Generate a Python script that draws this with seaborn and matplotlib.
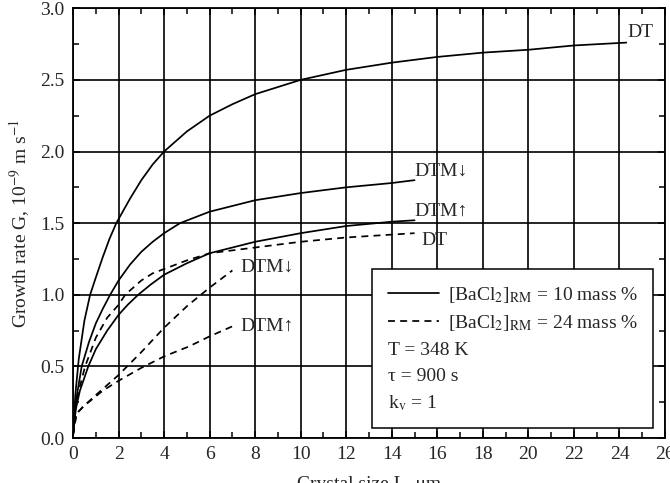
import pandas as pd
import matplotlib
matplotlib.use("Agg")
import matplotlib.pyplot as plt
from matplotlib.lines import Line2D
from matplotlib.ticker import MultipleLocator, FormatStrFormatter
import seaborn as sns

# curves: crystal size L (um) and growth rate G (1e-9 m/s)
L_dt_10 = [0, 0.1, 0.25, 0.5, 0.75, 1.0, 1.3, 1.6, 1.9, 2.5, 3, 3.5, 4, 5, 6, 7, 8, 9, 10, 12, 14, 16, 18, 20, 22, 24.3]
G_dt_10 = [0.02, 0.3, 0.55, 0.82, 1.0, 1.12, 1.26, 1.39, 1.5, 1.67, 1.8, 1.91, 2.0, 2.14, 2.25, 2.33, 2.4, 2.45, 2.5, 2.57, 2.62, 2.66, 2.69, 2.71, 2.74, 2.76]

L_dtm_dn_10 = [0, 0.15, 0.38, 0.7, 1, 1.3, 1.63, 2, 2.5, 3, 3.5, 4, 4.7, 6, 7, 8, 10, 12, 14, 15]
G_dtm_dn_10 = [0.02, 0.28, 0.5, 0.67, 0.8, 0.9, 1.0, 1.1, 1.21, 1.3, 1.37, 1.43, 1.5, 1.58, 1.62, 1.66, 1.71, 1.75, 1.78, 1.80]

L_dtm_up_10 = [0, 0.12, 0.3, 0.67, 1, 1.5, 2, 2.4, 2.86, 3.4, 4, 5, 6, 7, 8, 10, 12, 14, 15]
G_dtm_up_10 = [0.02, 0.2, 0.33, 0.5, 0.62, 0.75, 0.86, 0.93, 1.0, 1.07, 1.14, 1.22, 1.29, 1.33, 1.37, 1.43, 1.48, 1.51, 1.52]

L_dt_24 = [0, 0.08, 0.2, 0.53, 1, 1.5, 2, 2.29, 3, 3.5, 4, 5, 6, 7, 8, 10, 12, 14, 15]
G_dt_24 = [0.02, 0.18, 0.3, 0.5, 0.7, 0.84, 0.93, 1.0, 1.1, 1.15, 1.18, 1.24, 1.29, 1.31, 1.33, 1.37, 1.40, 1.42, 1.43]

L_dtm_dn_24 = [0, 0.15, 0.45, 1, 2, 3, 4, 5, 6, 7.0]
G_dtm_dn_24 = [0.02, 0.17, 0.22, 0.3, 0.44, 0.6, 0.77, 0.92, 1.05, 1.17]

L_dtm_up_24 = [0, 0.15, 0.45, 1.3, 2, 3, 4, 5.1, 6, 7.0]
G_dtm_up_24 = [0.02, 0.17, 0.22, 0.33, 0.40, 0.49, 0.57, 0.64, 0.71, 0.78]

curves = [
    ("DT_10", "10", L_dt_10, G_dt_10),
    ("DTMdn_10", "10", L_dtm_dn_10, G_dtm_dn_10),
    ("DTMup_10", "10", L_dtm_up_10, G_dtm_up_10),
    ("DT_24", "24", L_dt_24, G_dt_24),
    ("DTMdn_24", "24", L_dtm_dn_24, G_dtm_dn_24),
    ("DTMup_24", "24", L_dtm_up_24, G_dtm_up_24),
]
rows = []
for name, conc, xs, ys in curves:
    for x, y in zip(xs, ys):
        rows.append({"L": x, "G": y, "curve": name, "conc": conc})
df = pd.DataFrame(rows)

# curve labels: text, x, y
label_text = ["DT", "DTM\u2193", "DTM\u2191", "DT", "DTM\u2193", "DTM\u2191"]
label_x = [24.35, 15.0, 15.0, 15.3, 7.35, 7.35]
label_y = [2.83, 1.86, 1.58, 1.38, 1.19, 0.78]

sns.set_style("ticks")
plt.rcParams["font.family"] = ["Liberation Serif", "DejaVu Serif"]
plt.rcParams["mathtext.fontset"] = "stix"

fig = plt.figure(figsize=(6.7, 4.83), dpi=100)
ax = fig.add_axes([0.109, 0.093, 0.8835, 0.89])

sns.lineplot(data=df, x="L", y="G", units="curve", estimator=None, sort=False,
             style="conc", dashes={"10": "", "24": (4, 3)}, color="black",
             linewidth=1.25, legend=False, ax=ax)

for t, x, y in zip(label_text, label_x, label_y):
    ax.text(x, y, t, fontsize=14, ha="left", va="center")

ax.set_xlim(0, 26)
ax.set_ylim(0, 3.0)
ax.xaxis.set_major_locator(MultipleLocator(2))
ax.xaxis.set_minor_locator(MultipleLocator(1))
ax.yaxis.set_major_locator(MultipleLocator(0.5))
ax.yaxis.set_minor_locator(MultipleLocator(0.25))
ax.yaxis.set_major_formatter(FormatStrFormatter("%.1f"))
ax.grid(which="major", color="black", linewidth=1.2)
ax.tick_params(which="both", direction="in", top=True, right=True, labelsize=14,
               color="black", pad=6)
ax.tick_params(which="major", length=5, width=1.1)
ax.tick_params(which="minor", length=4, width=1.1)
for s in ax.spines.values():
    s.set_color("black")
    s.set_linewidth(1.3)

ax.set_xlabel("Crystal size L, \u03bcm", fontsize=14, labelpad=9)
ax.set_ylabel("Growth rate G, 10$^{-9}$ m s$^{-1}$", fontsize=14, labelpad=6)

handles = [
    Line2D([], [], color="black", lw=1.25),
    Line2D([], [], color="black", lw=1.25, dashes=(4, 3)),
    Line2D([], [], color="none"),
    Line2D([], [], color="none"),
    Line2D([], [], color="none"),
]
labels = [
    "[BaCl$_2$]$_{\\mathrm{RM}}$ = 10 mass %",
    "[BaCl$_2$]$_{\\mathrm{RM}}$ = 24 mass %",
    "T = 348 K",
    "\u03c4 = 900 s",
    "k$_{\\mathrm{v}}$ = 1",
]
leg = ax.legend(handles, labels, loc="lower right", bbox_to_anchor=(0.98, 0.023),
                fontsize=14, frameon=True, fancybox=False, edgecolor="black",
                framealpha=1, handlelength=2.6, handletextpad=0.46,
                labelspacing=0.42, borderpad=0.8, borderaxespad=0)
leg.get_frame().set_linewidth(1.1)

# rows without a line sample start where the samples start
items = leg._legend_handle_box.get_children()[0].get_children()
for item in items[2:]:
    item.get_children()[0].width = 0
    item.sep = 0

fig.savefig("out.png", dpi=100)
